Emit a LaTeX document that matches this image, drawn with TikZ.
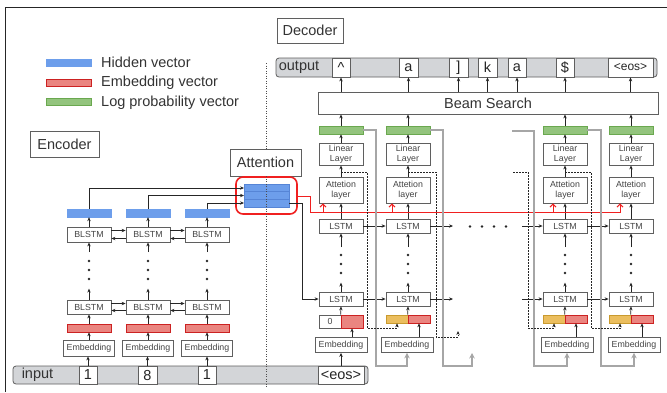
\documentclass[tikz,border=0pt]{standalone}
\usepackage{fontspec}
\setmainfont{Liberation Sans}
\usetikzlibrary{arrows.meta,calc}
\definecolor{hblue}{HTML}{6D9EEB}
\definecolor{hblueb}{HTML}{5685D6}
\definecolor{ered}{HTML}{EA8580}
\definecolor{eredb}{HTML}{CC2222}
\definecolor{lgreen}{HTML}{93C47D}
\definecolor{lgreenb}{HTML}{6AA84F}
\definecolor{oyel}{HTML}{EBBE5E}
\definecolor{oyelb}{HTML}{C99A2E}
\definecolor{barg}{HTML}{D3D5D8}
\definecolor{bordg}{HTML}{5F5F5F}
\definecolor{txtg}{HTML}{444444}
\definecolor{fbg}{HTML}{A6A6A6}
\definecolor{redl}{HTML}{F02020}
\begin{document}
\begin{tikzpicture}[x=1pt,y=-1pt,
  lbl/.style={inner sep=0pt,font=\fontsize{14.5}{16}\selectfont,text=black!80},
  bigbox/.style={draw=bordg,line width=0.8pt,fill=white,inner sep=0pt,font=\fontsize{14.5}{16}\selectfont,text=black!80},
  box/.style={draw=bordg,line width=0.8pt,fill=white,inner sep=0pt,align=center,font=\fontsize{8.8}{9.8}\selectfont,text=txtg},
  hv/.style={fill=hblue,draw=hblue,inner sep=0pt,minimum width=44pt,minimum height=8pt},
  ev/.style={fill=ered,draw=eredb,line width=0.6pt,inner sep=0pt,minimum width=44pt,minimum height=8pt},
  lv/.style={fill=lgreen,draw=lgreenb,line width=0.6pt,inner sep=0pt,minimum width=44pt,minimum height=8pt},
  ov/.style={fill=oyel,draw=oyelb,line width=0.6pt,inner sep=0pt,minimum width=22pt,minimum height=8pt},
  tbar/.style={fill=barg,draw=bordg,line width=0.8pt,rounded corners=3pt,inner sep=0pt},
  tok/.style={draw=bordg,line width=0.8pt,fill=white,inner sep=0pt,font=\fontsize{14.5}{16}\selectfont,text=black!85},
  arr/.style={-{Stealth[length=4pt,width=3.4pt]},line width=0.7pt,draw=black!85},
  garr/.style={-{Stealth[length=5.5pt,width=5.5pt,inset=2pt]},line width=1.3pt,draw=fbg},
  dline/.style={draw=black!85,line width=0.8pt,dash pattern=on 1.5pt off 1.5pt},
  darr/.style={dline,-{Stealth[length=4pt,width=3.4pt]}},
  rline/.style={draw=redl,line width=1pt},
  rarr/.style={rline,-{Straight Barb[length=3pt,width=6pt]}},
  vdot/.style={draw=black!70,line width=0.7pt,dash pattern=on 1pt off 1.5pt}
]
\useasboundingbox (0,0) rectangle (667,392);
\fill[white] (0,0) rectangle (667,392);
% frame
\draw[black!85,line width=0.8pt] (5,392) -- (5,7) -- (667,7);

% legend
\node[hv,minimum width=45pt,minimum height=7pt] (lgb) at (68.5,62.5) {};
\node[lbl,anchor=west] (lgbt) at (101,62.5) {Hidden vector};
\node[ev,minimum width=45pt,minimum height=7pt] (lgr) at (68.5,82.5) {};
\node[lbl,anchor=west] (lgrt) at (101,83) {Embedding vector};
\node[lv,minimum width=45pt,minimum height=7pt] (lgg) at (68.5,101.5) {};
\node[lbl,anchor=west] (lggt) at (101,103) {Log probability vector};

% titles
\node[bigbox,minimum width=69pt,minimum height=26pt] (enc) at (64.5,144) {Encoder};
\node[bigbox,minimum width=66pt,minimum height=25pt] (dec) at (310,30.5) {Decoder};
\node[bigbox,minimum width=71pt,minimum height=27pt] (att) at (265.5,162.5) {Attention};

% input bar
\node[tbar,minimum width=355pt,minimum height=18pt] (inbar) at (190.5,375) {};
\node[lbl] (inlab) at (37.5,375) {input};
\node[tok,minimum width=18pt,minimum height=18pt] (in1) at (88,375) {1};
\node[tok,minimum width=19pt,minimum height=18pt] (in2) at (147.5,375) {8};
\node[tok,minimum width=18pt,minimum height=18pt] (in3) at (207,375) {1};
\node[tok,minimum width=46pt,minimum height=18pt] (ineos) at (341,375) {<eos>};

% output bar
\node[tbar,minimum width=381pt,minimum height=19pt] (outbar) at (466.5,67.5) {};
\node[lbl] (outlab) at (299,67) {output};
\node[tok,minimum width=18pt,minimum height=19pt] (ob1) at (341,67.5) {\textasciicircum};
\node[tok,minimum width=19pt,minimum height=19pt] (ob2) at (408.5,67.5) {a};
\node[tok,minimum width=19pt,minimum height=19pt] (ob3) at (458.5,67.5) {]};
\node[tok,minimum width=19pt,minimum height=19pt] (ob4) at (487.5,67.5) {k};
\node[tok,minimum width=18pt,minimum height=19pt] (ob5) at (517,67.5) {a};
\node[tok,minimum width=18pt,minimum height=19pt] (ob6) at (565,67.5) {\$};
\node[tok,minimum width=45pt,minimum height=19pt,font=\fontsize{12}{14}\selectfont] (ob7) at (630.5,67.5) {<eos>};

\node[bigbox,minimum width=340pt,minimum height=22pt] (beam) at (488,103) {Beam Search};
\foreach \i in {1,...,7} \draw[arr] (ob\i.south |- beam.north) -- (ob\i.south);

% encoder columns
\foreach \i/\x in {1/89,2/148,3/207}{
  \node[hv] (eh\i) at (\x,213) {};
  \node[box,minimum width=44pt,minimum height=15pt] (eb\i) at (\x,234.5) {BLSTM};
  \node[box,minimum width=44pt,minimum height=14pt] (ebl\i) at (\x,307) {BLSTM};
  \node[ev] (er\i) at (\x,328) {};
  \node[box,minimum width=51pt,minimum height=16pt] (ee\i) at (\x,348) {Embedding};
  \foreach \yy in {261,270,279} \fill[black!85] (\x,\yy) circle (1.3pt);
  \draw[arr] (in\i.north) -- (in\i.north |- ee\i.south);
  \draw[arr] (ee\i.north) -- (er\i.south);
  \draw[arr] (er\i.north) -- (ebl\i.south);
  \draw[arr] (ebl\i.north) -- ++(0,-11);
  \draw[arr] (\x,252) -- (eb\i.south);
  \draw[arr] (eb\i.north) -- (eh\i.south);
}
\foreach \i/\j in {1/2,2/3}{
  \draw[arr] ($(eb\i.east)+(0,-4)$) -- ($(eb\j.west)+(0,-4)$);
  \draw[arr] ($(eb\j.west)+(0,4)$) -- ($(eb\i.east)+(0,4)$);
  \draw[arr] ($(ebl\i.east)+(0,-3.5)$) -- ($(ebl\j.west)+(0,-3.5)$);
  \draw[arr] ($(ebl\j.west)+(0,3.5)$) -- ($(ebl\i.east)+(0,3.5)$);
}

% attention block
\node[draw=redl,line width=1.6pt,rounded corners=7pt,minimum width=61pt,minimum height=37pt,inner sep=0pt] (ared) at (266.5,195.5) {};
\node[fill=hblue,draw=hblueb,line width=0.4pt,minimum width=45pt,minimum height=23pt,inner sep=0pt] (ablk) at (266.5,195.5) {};
\draw[hblueb,line width=0.6pt] ($(ablk.north west)!0.333!(ablk.south west)$) -- ($(ablk.north east)!0.333!(ablk.south east)$);
\draw[hblueb,line width=0.6pt] ($(ablk.north west)!0.667!(ablk.south west)$) -- ($(ablk.north east)!0.667!(ablk.south east)$);
\coordinate (ain1) at (244,188);
\coordinate (ain2) at (244,195.5);
\coordinate (ain3) at (244,203);
\draw[arr] (eh1.north) |- (ain1);
\draw[arr] (eh2.north) |- (ain2);
\draw[arr] (eh3.north) |- (ain3);

% decoder columns
\foreach \i/\x/\ex in {1/341/341,2/408/407,3/565/567,4/631/634}{
  \node[lv] (gd\i) at (\x,130) {};
  \node[box,minimum width=44pt,minimum height=22pt] (ll\i) at (\x,154) {Linear\\Layer};
  \node[box,minimum width=44pt,minimum height=26pt] (ad\i) at (\x,190) {Attetion\\layer};
  \node[box,minimum width=44pt,minimum height=14pt] (lu\i) at (\x,226) {LSTM};
  \node[box,minimum width=44pt,minimum height=14pt] (ld\i) at (\x,299) {LSTM};
  \node[box,minimum width=52pt,minimum height=15pt] (ed\i) at (\ex,345) {Embedding};
  \foreach \yy in {255,264,273} \fill[black!85] (\x,\yy) circle (1.3pt);
  \draw[arr] (ld\i.north) -- ++(0,-9);
  \draw[arr] (\x,247) -- (lu\i.south);
  \draw[arr] (lu\i.north) -- (ad\i.south);
  \draw[arr] (ad\i.north) -- (ll\i.south);
  \draw[arr] (ll\i.north) -- (gd\i.south);
  \draw[arr] (gd\i.north) -- (gd\i.north |- beam.south);
}
% embedding bars
\node[box,minimum width=22pt,minimum height=13pt] (z1) at (330,321.5) {0};
\node[ev,minimum width=22pt,minimum height=13pt] (rd1) at (352,321.5) {};
\foreach \i/\x in {2/408,3/565,4/631}{
  \node[ov] (od\i) at (\x-11,319) {};
  \node[ev,minimum width=22pt] (rd\i) at (\x+11,319) {};
}
\draw[arr] (ineos.north) -- (ed1.south);
\foreach \i in {1,...,4}{
  \draw[arr] (ed\i.north -| rd\i.south) -- (rd\i.south);
  \draw[arr] (rd\i.north west) -- (ld\i.south);
}

% horizontal LSTM arrows
\coordinate (uf2) at (453,226);
\coordinate (us3) at (522,226);
\coordinate (lf2) at (453,299);
\coordinate (ls3) at (522,299);
\draw[arr] (lu1.east) -- (lu2.west);
\draw[arr] (lu2.east) -- (uf2);
\draw[arr] (us3) -- (lu3.west);
\draw[arr] (lu3.east) -- (lu4.west);
\draw[arr] (ld1.east) -- (ld2.west);
\draw[arr] (ld2.east) -- (lf2);
\draw[arr] (ls3) -- (ld3.west);
\draw[arr] (ld3.east) -- (ld4.west);
\foreach \xx in {470,482,494,506} \fill[black!85] (\xx,226.5) circle (1.4pt);

% attention -> first decoder LSTM
\coordinate (aout) at (289,203);
\draw[arr] (aout) -- (302,203) |- (ld1.west);

% red context lines
\coordinate (rstart) at (297,196);
\draw[rarr] (rstart) -- (310,196) -- (310,212) -| ($(ad4.south)+(-11,0)$);
\draw[rarr] ($(ad1.south)+(-18,9)$) -- ($(ad1.south)+(-18,0)$);
\draw[rarr] ($(ad2.south)+(-16,9)$) -- ($(ad2.south)+(-16,0)$);
\draw[rarr] ($(ad3.south)+(-12,9)$) -- ($(ad3.south)+(-12,0)$);

% gray feedback
\coordinate (gf2) at (472,353);
\coordinate (gs3) at (512,131);
\draw[garr] (gd1.east) -| (376,366) -| (ed2.south);
\draw[garr] (gd2.east) -| (443,366) -| (gf2);
\draw[garr] (gs3) -| (534,366) -| (ed3.south);
\draw[garr] (gd3.east) -| (601,366) -| (ed4.south);

% dotted state lines
\coordinate (hd1) at (341,172);
\coordinate (hd2) at (408,172);
\coordinate (hf2) at (458,331);
\coordinate (hs3) at (513,172);
\coordinate (hd3) at (565,172);
\draw[darr] (hd1) -| (367,328) -| (od2.south);
\draw[darr] (hd2) -| (436,337) -| (hf2);
\draw[darr] (hs3) -| (528,328) -| (od3.south);
\draw[darr] (hd3) -| (591,328) -| (od4.south);

% dotted divider
\coordinate (vtop) at (266,63);
\coordinate (vbot) at (266,388);
\draw[vdot] (vtop) -- (vtop |- att.north);
\draw[vdot] (vtop |- att.south) -- (vbot);
\end{tikzpicture}
\end{document}
